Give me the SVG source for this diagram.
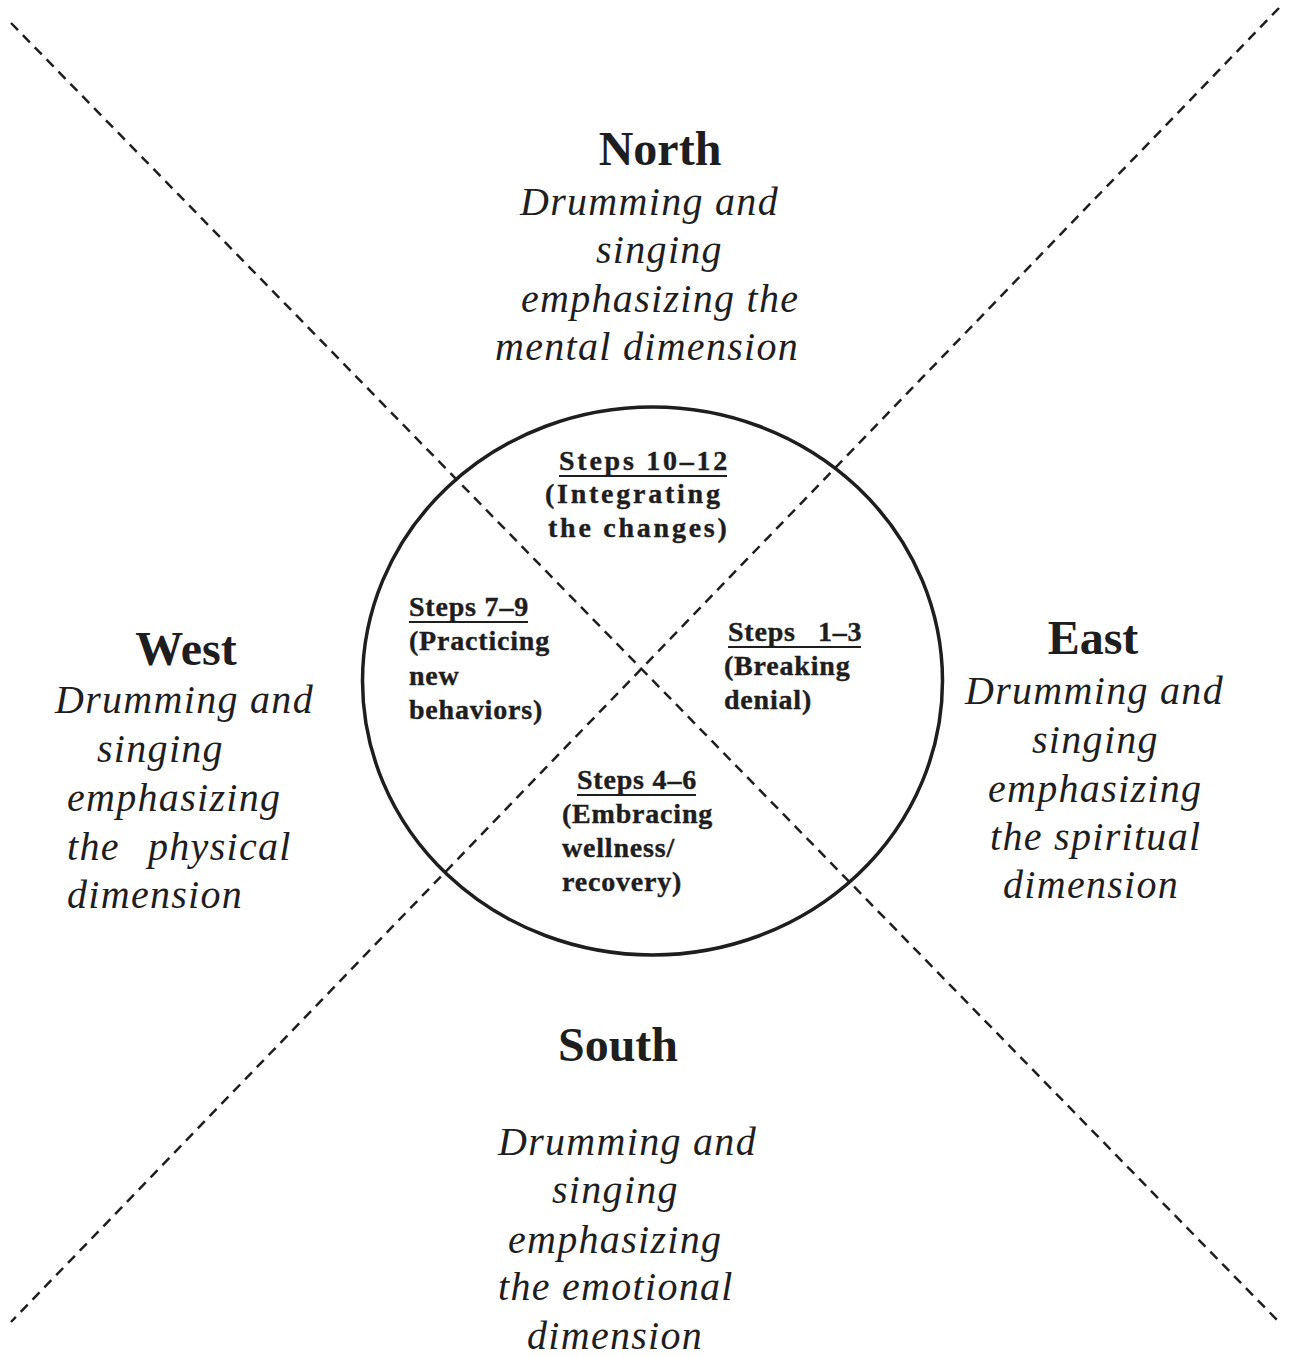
<svg xmlns="http://www.w3.org/2000/svg" width="1291" height="1357" viewBox="0 0 1291 1357">
<style>
.dash{stroke:#1e1e1e;stroke-width:2.5;stroke-dasharray:10 7;fill:none}
.hd{font-family:"Liberation Serif","Times New Roman",serif;font-weight:bold;font-size:48px;fill:#1e1e1e;text-anchor:middle}
.it{font-family:"Liberation Serif","Times New Roman",serif;font-style:italic;font-size:40px;letter-spacing:1.3px;fill:#1e1e1e;white-space:pre}
.st{font-family:"Liberation Serif","Times New Roman",serif;font-weight:bold;font-size:28px;letter-spacing:0.8px;fill:#1e1e1e;stroke:#1e1e1e;stroke-width:0.4;white-space:pre}
.wide{letter-spacing:2.75px}
.ul{stroke:#1e1e1e;stroke-width:2}
</style>
<rect width="1291" height="1357" fill="#ffffff"/>
<g id="connectors">
<line class="dash" x1="11" y1="23" x2="1279" y2="1322"/>
<line class="dash" x1="1279" y1="8" x2="11" y2="1322"/>
</g>
<g id="wheel">
<ellipse cx="652.5" cy="681" rx="290" ry="274" fill="none" stroke="#1e1e1e" stroke-width="3.5"/>
</g>
<g id="north">
<text class="hd" x="660" y="165">North</text>
<text class="it" x="520" y="215">Drumming and</text>
<text class="it" x="596" y="263">singing</text>
<text class="it" x="521" y="312">emphasizing the</text>
<text class="it" x="495" y="360">mental dimension</text>
</g>
<g id="west">
<text class="hd" x="186" y="665">West</text>
<text class="it" x="55" y="713">Drumming and</text>
<text class="it" x="97" y="762">singing</text>
<text class="it" x="67" y="811">emphasizing</text>
<text class="it" x="67" y="860">the<tspan x="148">physical</tspan></text>
<text class="it" x="67" y="908">dimension</text>
</g>
<g id="east">
<text class="hd" x="1093" y="654">East</text>
<text class="it" x="965" y="704">Drumming and</text>
<text class="it" x="1032" y="753">singing</text>
<text class="it" x="988" y="802">emphasizing</text>
<text class="it" x="990" y="850">the spiritual</text>
<text class="it" x="1003" y="898">dimension</text>
</g>
<g id="south">
<text class="hd" x="618" y="1061">South</text>
<text class="it" x="498" y="1155">Drumming and</text>
<text class="it" x="552" y="1203">singing</text>
<text class="it" x="508" y="1253">emphasizing</text>
<text class="it" x="498" y="1300">the emotional</text>
<text class="it" x="527" y="1349">dimension</text>
</g>
<g id="steps-10-12">
<text class="st wide" x="559" y="470">Steps 10–12</text>
<line class="ul" x1="559" y1="476" x2="727" y2="476"/>
<text class="st wide" x="545" y="503">(Integrating</text>
<text class="st wide" x="548" y="537">the changes)</text>
</g>
<g id="steps-7-9">
<text class="st" x="409" y="616">Steps 7–9</text>
<line class="ul" x1="409" y1="622" x2="528" y2="622"/>
<text class="st" x="409" y="650">(Practicing</text>
<text class="st" x="409" y="685">new</text>
<text class="st" x="409" y="719">behaviors)</text>
</g>
<g id="steps-1-3">
<text class="st" x="728" y="641">Steps<tspan x="818">1–3</tspan></text>
<line class="ul" x1="728" y1="647" x2="861" y2="647"/>
<text class="st" x="724" y="675">(Breaking</text>
<text class="st" x="724" y="709">denial)</text>
</g>
<g id="steps-4-6">
<text class="st" x="577" y="789">Steps 4–6</text>
<line class="ul" x1="577" y1="795" x2="696" y2="795"/>
<text class="st" x="562" y="823">(Embracing</text>
<text class="st" x="562" y="857">wellness/</text>
<text class="st" x="562" y="891">recovery)</text>
</g>
</svg>
